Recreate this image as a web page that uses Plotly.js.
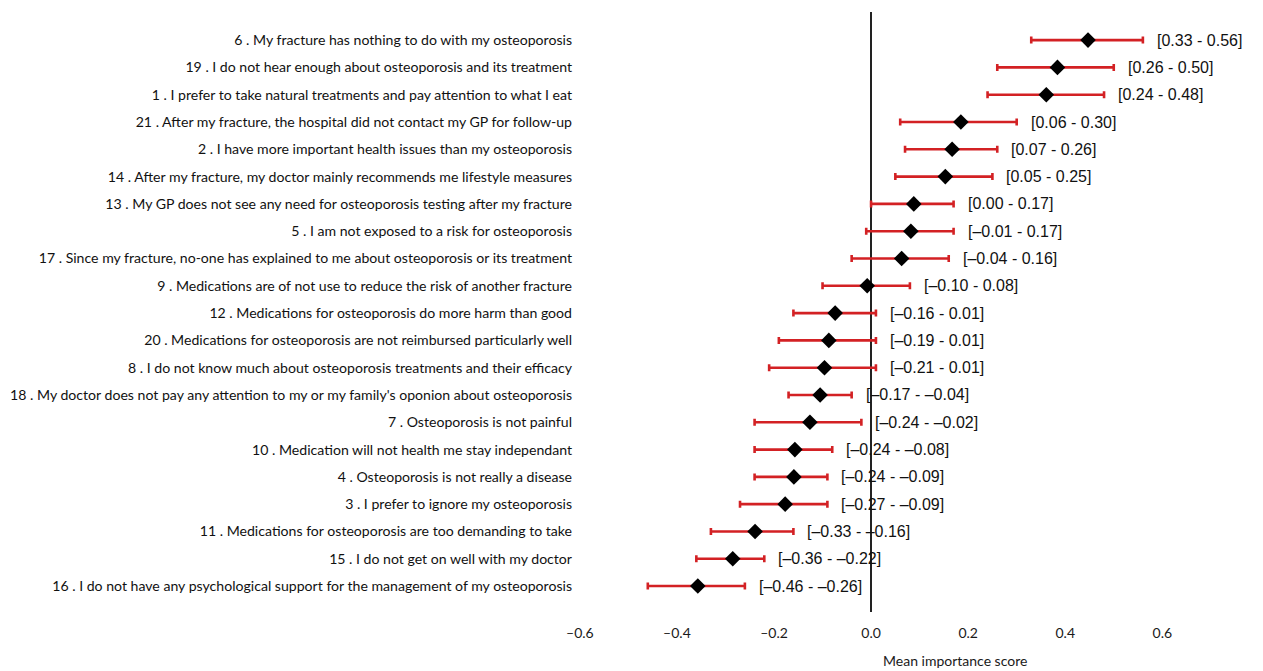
<!DOCTYPE html>
<html>
<head>
<meta charset="utf-8">
<script src="https://cdn.plot.ly/plotly-3.0.1.min.js"></script>
<style>html,body{margin:0;padding:0;background:#fff;}#chart{width:1263px;height:671px;}</style>
</head>
<body>
<div id="chart"></div>
<script>
const items = [
  "6 . My fracture has nothing to do with my osteoporosis",
  "19 . I do not hear enough about osteoporosis and its treatment",
  "1 . I prefer to take natural treatments and pay attention to what I eat",
  "21 . After my fracture, the hospital did not contact my GP for follow-up",
  "2 . I have more important health issues than my osteoporosis",
  "14 . After my fracture, my doctor mainly recommends me lifestyle measures",
  "13 . My GP does not see any need for osteoporosis testing after my fracture",
  "5 . I am not exposed to a risk for osteoporosis",
  "17 . Since my fracture, no-one has explained to me about osteoporosis or its treatment",
  "9 . Medications are of not use to reduce the risk of another fracture",
  "12 . Medications for osteoporosis do more harm than good",
  "20 . Medications for osteoporosis are not reimbursed particularly well",
  "8 . I do not know much about osteoporosis treatments and their efficacy",
  "18 . My doctor does not pay any attention to my or my family's oponion about osteoporosis",
  "7 . Osteoporosis is not painful",
  "10 . Medication will not health me stay independant",
  "4 . Osteoporosis is not really a disease",
  "3 . I prefer to ignore my osteoporosis",
  "11 . Medications for osteoporosis are too demanding to take",
  "15 . I do not get on well with my doctor",
  "16 . I do not have any psychological support for the management of my osteoporosis"
];
const meanScore = [0.447, 0.384, 0.361, 0.185, 0.167, 0.153, 0.088, 0.082, 0.063, -0.008, -0.074, -0.087, -0.096, -0.105, -0.126, -0.157, -0.159, -0.177, -0.239, -0.285, -0.357];
const ciLower = [0.33, 0.26, 0.24, 0.06, 0.07, 0.05, 0.00, -0.01, -0.04, -0.10, -0.16, -0.19, -0.21, -0.17, -0.24, -0.24, -0.24, -0.27, -0.33, -0.36, -0.46];
const ciUpper = [0.56, 0.50, 0.48, 0.30, 0.26, 0.25, 0.17, 0.17, 0.16, 0.08, 0.01, 0.01, 0.01, -0.04, -0.02, -0.08, -0.09, -0.09, -0.16, -0.22, -0.26];
const xTickVals = [-0.6, -0.4, -0.2, 0, 0.2, 0.4, 0.6];
const xTickText = ["–0.6", "–0.4", "–0.2", "0.0", "0.2", "0.4", "0.6"];
const axisTitle = "Mean importance score";

const yIdx = items.map((_, i) => i);
const fmt = v => (v < 0 ? "–" : "") + Math.abs(v).toFixed(2);

const trace = {
  type: "scatter",
  mode: "markers",
  x: meanScore,
  y: yIdx,
  marker: {symbol: "diamond", size: 12, color: "#000000"},
  error_x: {
    type: "data",
    symmetric: false,
    array: meanScore.map((m, i) => ciUpper[i] - m),
    arrayminus: meanScore.map((m, i) => m - ciLower[i]),
    color: "#d32124",
    thickness: 2.6,
    width: 3.5
  },
  hoverinfo: "skip",
  cliponaxis: false
};

const annotations = items.map((_, i) => ({
  x: ciUpper[i], y: i, xref: "x", yref: "y",
  text: "[" + fmt(ciLower[i]) + " - " + fmt(ciUpper[i]) + "]",
  showarrow: false, xanchor: "left", yanchor: "middle", xshift: 12,
  font: {family: "Liberation Sans, Arial, sans-serif", size: 16, color: "#111"}
}));
annotations.push({
  x: 0.173, y: -0.08, xref: "x", yref: "paper",
  text: axisTitle, showarrow: false, xanchor: "center", yanchor: "middle",
  font: {family: "Lato, sans-serif", size: 14, color: "#1a1a1a"}
});

const layout = {
  width: 1263, height: 671,
  margin: {l: 575, r: 91, t: 12, b: 59, pad: 0},
  paper_bgcolor: "#ffffff", plot_bgcolor: "#ffffff",
  showlegend: false,
  xaxis: {
    range: [-0.61, 0.62],
    tickvals: xTickVals, ticktext: xTickText,
    showgrid: false, showline: false, ticks: "",
    zeroline: true, zerolinecolor: "#222", zerolinewidth: 1.6,
    tickfont: {family: "Lato, sans-serif", size: 14, color: "#1a1a1a"},
    ticklabelstandoff: 11
  },
  yaxis: {
    range: [20.95, -1.03],
    tickvals: yIdx, ticktext: items,
    showgrid: false, showline: false, ticks: "", zeroline: false,
    tickfont: {family: "Lato, sans-serif", size: 14.1, color: "#111"},
    ticklabelstandoff: 2
  },
  annotations: annotations
};

Plotly.newPlot("chart", [trace], layout, {staticPlot: true, displayModeBar: false});
</script>
</body>
</html>
